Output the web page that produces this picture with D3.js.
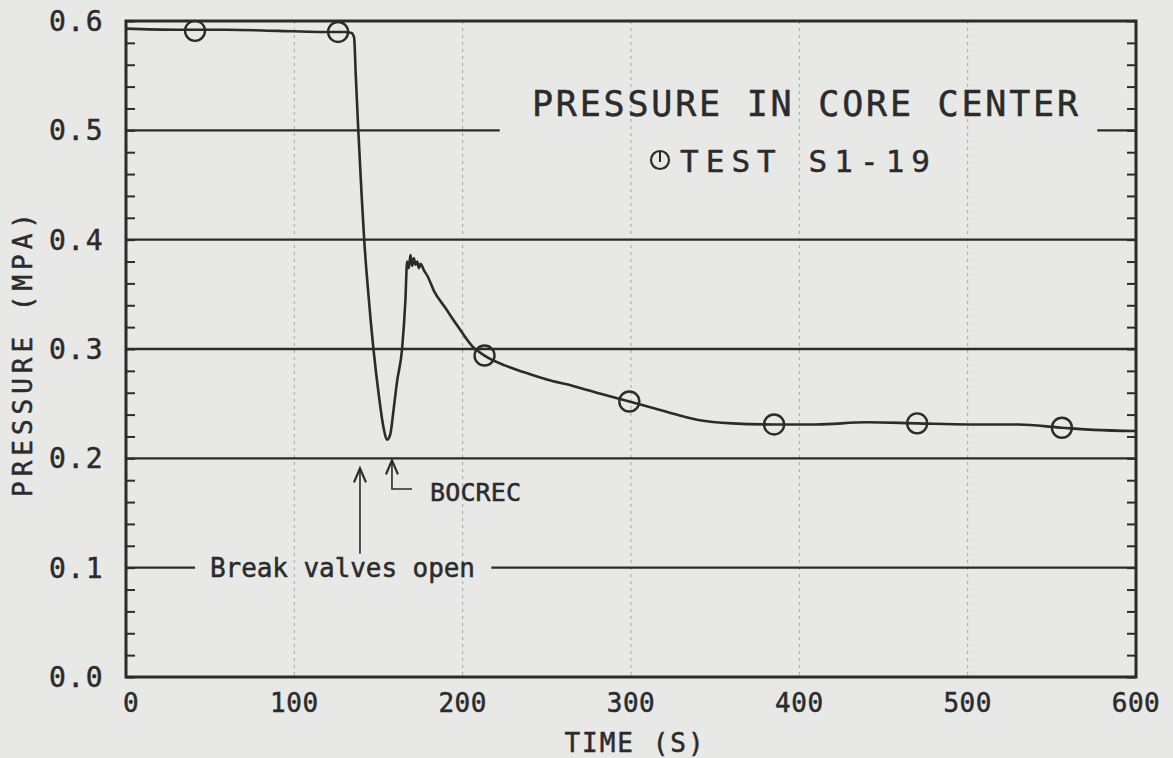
<!DOCTYPE html>
<html>
<head>
<meta charset="utf-8">
<script src="https://cdn.jsdelivr.net/npm/d3@7"></script>
<style>
	html, body { margin: 0; padding: 0; background: #e8e8e6; }
	svg { display: block; }
	text { font-family: 'DejaVu Sans Mono', 'Liberation Mono', monospace; fill: #2b2b2b; stroke: #2b2b2b; stroke-width: 0.5px; }
</style>
</head>
<body>
<script>
// measured pressure, core center, test S1-19
const time = [0, 30, 60, 90, 115, 130, 134, 135.5, 136.5, 138, 140, 141.5, 144, 147, 150, 153, 155, 157, 159, 161, 164, 166, 167,
	168, 169, 170, 171, 172, 173, 174, 175, 177, 179, 183, 190, 197, 206, 213, 225, 236, 250, 266, 282, 299, 320, 340, 360, 385,
	410, 440, 470, 500, 530, 556, 575, 600];
const pressure = [0.593, 0.592, 0.592, 0.591, 0.590, 0.590, 0.589, 0.585, 0.55, 0.50, 0.44, 0.40, 0.35, 0.30, 0.26, 0.228,
	0.217, 0.222, 0.245, 0.27, 0.30, 0.345, 0.38, 0.374, 0.386, 0.376, 0.383, 0.377, 0.380, 0.374, 0.378, 0.372, 0.367,
	0.353, 0.337, 0.321, 0.302, 0.294, 0.285, 0.279, 0.272, 0.266, 0.259, 0.252, 0.243, 0.235, 0.232, 0.231, 0.231, 0.233,
	0.232, 0.231, 0.231, 0.228, 0.226, 0.225];
const markerTime = [41, 126, 213, 299, 385, 470, 556];
const markerPressure = [0.591, 0.590, 0.294, 0.252, 0.231, 0.232, 0.228];

const xTicks = [0, 100, 200, 300, 400, 500, 600];
const yTicks = [0.0, 0.1, 0.2, 0.3, 0.4, 0.5, 0.6];
const yMinor = d3.range(0, 0.6001, 0.02);

const breakValvesTime = 139;
const bocrecTime = 158;

const width = 1173;
const height = 758;
const ink = '#2b2b2b';

const x = d3.scaleLinear().domain([0, 600]).range([126, 1136]);
const y = d3.scaleLinear().domain([0, 0.6]).range([677, 21]);

const svg = d3.select('body').append('svg').attr('width', width).attr('height', height);

// faint vertical grid (dotted)
svg.append('g')
	.selectAll('line')
	.data(xTicks.slice(1, -1))
	.join('line')
	.attr('x1', (d) => x(d))
	.attr('x2', (d) => x(d))
	.attr('y1', y(0.6))
	.attr('y2', y(0))
	.attr('stroke', '#a5a5a3')
	.attr('stroke-width', 1)
	.attr('stroke-dasharray', '3,4');

// horizontal grid, with gaps where the text sits
const gaps = new Map();
gaps.set(0.5, [222, 577]);
gaps.set(0.1, [41, 217]);
const gridSegs = [];
for (const v of yTicks.slice(1, -1)) {
	const g = gaps.get(v);
	if (g) {
		gridSegs.push({ v, t0: 0, t1: g[0] });
		gridSegs.push({ v, t0: g[1], t1: 600 });
	} else {
		gridSegs.push({ v, t0: 0, t1: 600 });
	}
}
svg.append('g')
	.selectAll('line')
	.data(gridSegs)
	.join('line')
	.attr('x1', (d) => x(d.t0))
	.attr('x2', (d) => x(d.t1))
	.attr('y1', (d) => y(d.v))
	.attr('y2', (d) => y(d.v))
	.attr('stroke', ink)
	.attr('stroke-width', 2.4);

// minor ticks, inward on both sides
const tickStyle = (g) => {
	g.select('.domain').remove();
	g.selectAll('line').attr('stroke', ink).attr('stroke-width', 2);
};
svg.append('g')
	.attr('transform', `translate(${x(0)},0)`)
	.call(d3.axisLeft(y).tickValues(yMinor).tickSize(-9).tickFormat(''))
	.call(tickStyle);
svg.append('g')
	.attr('transform', `translate(${x(600)},0)`)
	.call(d3.axisRight(y).tickValues(yMinor).tickSize(-9).tickFormat(''))
	.call(tickStyle);

// frame
svg.append('rect')
	.attr('x', x(0))
	.attr('y', y(0.6))
	.attr('width', x(600) - x(0))
	.attr('height', y(0) - y(0.6))
	.attr('fill', 'none')
	.attr('stroke', ink)
	.attr('stroke-width', 3);

// tick labels
svg.append('g')
	.selectAll('text')
	.data(yTicks)
	.join('text')
	.attr('x', 104)
	.attr('y', (d) => y(d) + 10)
	.attr('text-anchor', 'end')
	.attr('font-size', 28)
	.attr('letter-spacing', 1.5)
	.text((d) => d3.format('.1f')(d));

svg.append('g')
	.selectAll('text')
	.data(xTicks)
	.join('text')
	.attr('x', (d) => x(d) + (d === 0 ? 5 : 0))
	.attr('y', 712)
	.attr('text-anchor', 'middle')
	.attr('font-size', 26)
	.attr('letter-spacing', 0.5)
	.text((d) => d);

// axis titles
svg.append('text')
	.attr('x', 635)
	.attr('y', 752)
	.attr('text-anchor', 'middle')
	.attr('font-size', 26)
	.attr('letter-spacing', 2)
	.text('TIME (S)');

svg.append('text')
	.attr('transform', 'translate(32,355) rotate(-90)')
	.attr('text-anchor', 'middle')
	.attr('font-size', 26)
	.attr('textLength', 284)
	.attr('lengthAdjust', 'spacing')
	.text('PRESSURE (MPA)');

// curve
const line = d3
	.line()
	.x((d, i) => x(time[i]))
	.y((d) => y(d))
	.curve(d3.curveMonotoneX);

svg.append('path')
	.datum(pressure)
	.attr('d', line)
	.attr('fill', 'none')
	.attr('stroke', ink)
	.attr('stroke-width', 2.6)
	.attr('stroke-linejoin', 'round');

svg.append('g')
	.selectAll('circle')
	.data(markerPressure)
	.join('circle')
	.attr('cx', (d, i) => x(markerTime[i]))
	.attr('cy', (d) => y(d))
	.attr('r', 10)
	.attr('fill', 'none')
	.attr('stroke', ink)
	.attr('stroke-width', 2.4);

// legend / title
svg.append('text')
	.attr('x', 532)
	.attr('y', 116)
	.attr('font-size', 35)
	.attr('textLength', 546)
	.attr('lengthAdjust', 'spacing')
	.text('PRESSURE IN CORE CENTER');

const lg = svg.append('g').attr('transform', 'translate(660,160)');
lg.append('circle').attr('r', 9).attr('fill', 'none').attr('stroke', ink).attr('stroke-width', 2.2);
lg.append('line').attr('x1', 0).attr('x2', 0).attr('y1', -8).attr('y2', 2).attr('stroke', ink).attr('stroke-width', 2);
svg.append('text')
	.attr('x', 680)
	.attr('y', 172)
	.attr('font-size', 31)
	.attr('textLength', 250)
	.attr('lengthAdjust', 'spacing')
	.text('TEST S1-19');

// annotations
const arrowHead = (px, py) => `M${px - 6},${py + 14}L${px},${py}L${px + 6},${py + 14}`;

const bx = x(breakValvesTime);
svg.append('line')
	.attr('x1', bx)
	.attr('x2', bx)
	.attr('y1', y(0.2) + 12)
	.attr('y2', y(0.1) - 14)
	.attr('stroke', ink)
	.attr('stroke-width', 1.6);
svg.append('path').attr('d', arrowHead(bx, y(0.2) + 10)).attr('fill', 'none').attr('stroke', ink).attr('stroke-width', 2.2);

svg.append('text')
	.attr('x', 210)
	.attr('y', 577)
	.attr('font-size', 26)
	.attr('textLength', 265)
	.attr('lengthAdjust', 'spacing')
	.text('Break valves open');

const cx = x(bocrecTime);
svg.append('path')
	.attr('d', `M${cx},${y(0.2) + 4}V489H412`)
	.attr('fill', 'none')
	.attr('stroke', ink)
	.attr('stroke-width', 1.6);
svg.append('path').attr('d', arrowHead(cx, y(0.2) + 2)).attr('fill', 'none').attr('stroke', ink).attr('stroke-width', 2.2);
svg.append('text')
	.attr('x', 430)
	.attr('y', 501)
	.attr('font-size', 25)
	.attr('textLength', 91)
	.attr('lengthAdjust', 'spacing')
	.text('BOCREC');
</script>
</body>
</html>
